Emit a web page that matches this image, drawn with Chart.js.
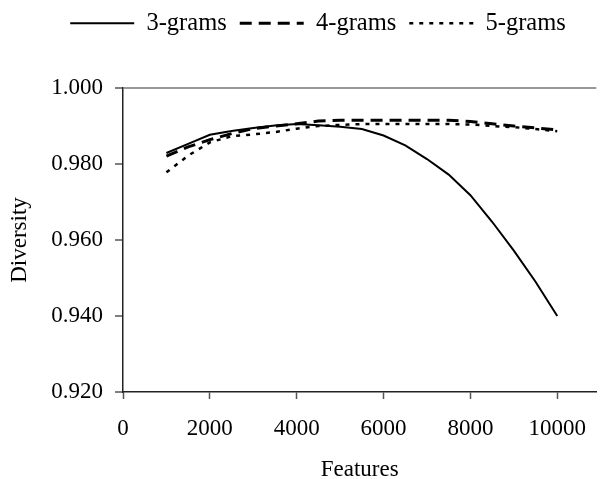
<!DOCTYPE html>
<html>
<head>
<meta charset="utf-8">
<script src="https://cdn.jsdelivr.net/npm/chart.js@4.4.1/dist/chart.umd.min.js"></script>
<style>
  html, body { margin: 0; padding: 0; background: #fff; }
  #wrap { width: 602px; height: 479px; }
</style>
</head>
<body>
<div id="wrap"><canvas id="myChart" width="602" height="479"></canvas></div>
<script>
var features = [1000, 1500, 2000, 2500, 3000, 3500, 4000, 4500, 5000, 5500,
                6000, 6500, 7000, 7500, 8000, 8500, 9000, 9500, 10000];
var gram3 = [0.9829, 0.9853, 0.9877, 0.9887, 0.9895, 0.9901, 0.9905, 0.9902, 0.9898, 0.9892,
             0.9875, 0.9849, 0.9813, 0.9772, 0.9718, 0.9648, 0.9572, 0.9490, 0.9400];
var gram4 = [0.9821, 0.9845, 0.9864, 0.9880, 0.9893, 0.9900, 0.9906, 0.9913, 0.9915, 0.9915,
             0.9915, 0.9915, 0.9915, 0.9915, 0.9912, 0.9906, 0.9900, 0.9895, 0.9890];
var gram5 = [0.9778, 0.9822, 0.9857, 0.9873, 0.9878, 0.9884, 0.9893, 0.9900, 0.9903, 0.9905,
             0.9905, 0.9905, 0.9905, 0.9905, 0.9904, 0.9900, 0.9897, 0.9892, 0.9886];
var seriesNames = ['3-grams', '4-grams', '5-grams'];
var xTicks = [0, 2000, 4000, 6000, 8000, 10000];
var yTicks = [0.92, 0.94, 0.96, 0.98, 1.0];

var serif = "'Liberation Serif', 'Times New Roman', serif";

function pts(vals) {
    return features.map(function (f, i) { return {x: f, y: vals[i]}; });
}

// legend: fixed height, drawn a little right/up
var legendSize = {
    id: 'legendSize',
    beforeInit: function (chart) {
        var lg = chart.legend;
        var fit = lg.fit;
        lg.fit = function () {
            fit.call(this);
            this.height = 88;
        };
        var draw = lg.draw;
        lg.draw = function () {
            var c = this.ctx;
            c.save();
            c.translate(17, -2);
            draw.apply(this, arguments);
            c.restore();
        };
    }
};

var ctx = document.getElementById('myChart').getContext('2d');
var myChart = new Chart(ctx, {
    type: 'line',
    data: {
        datasets: [{
            label: seriesNames[0],
            data: pts(gram3),
            borderColor: '#000',
            borderWidth: 2,
            pointRadius: 0,
            tension: 0
        }, {
            label: seriesNames[1],
            data: pts(gram4),
            borderColor: '#000',
            borderWidth: 3,
            borderDash: [12, 7],
            pointRadius: 0,
            tension: 0
        }, {
            label: seriesNames[2],
            data: pts(gram5),
            borderColor: '#000',
            borderWidth: 2.5,
            borderDash: [4, 6],
            pointRadius: 0,
            tension: 0
        }]
    },
    options: {
        responsive: false,
        animation: false,
        layout: { padding: 0 },
        plugins: {
            tooltip: { enabled: false },
            legend: {
                position: 'top',
                labels: {
                    usePointStyle: true,
                    pointStyle: 'line',
                    pointStyleWidth: 64,
                    boxHeight: 22,
                    padding: 13,
                    color: '#000',
                    font: { family: serif, size: 24.5 },
                    generateLabels: function (chart) {
                        var items = Chart.defaults.plugins.legend.labels.generateLabels(chart);
                        items.forEach(function (it) {
                            var ds = chart.data.datasets[it.datasetIndex];
                            it.lineDash = ds.borderDash || [];
                            it.lineWidth = ds.borderWidth;
                            it.strokeStyle = '#000';
                            it.fillStyle = '#000';
                        });
                        return items;
                    }
                }
            }
        },
        scales: {
            x: {
                type: 'linear',
                min: 0,
                max: 10900,
                afterBuildTicks: function (s) {
                    s.ticks = xTicks.map(function (v) { return {value: v}; });
                },
                afterFit: function (s) { s.height = 87; },
                border: { color: '#222', width: 1.5 },
                grid: {
                    drawOnChartArea: false,
                    tickLength: 7,
                    tickWidth: 1.5,
                    tickColor: '#555'
                },
                ticks: {
                    autoSkip: false,
                    maxRotation: 0,
                    padding: 16,
                    color: '#000',
                    font: { family: serif, size: 23 },
                    callback: function (v) { return String(v); }
                },
                title: {
                    display: true,
                    text: 'Features',
                    color: '#000',
                    font: { family: serif, size: 23 },
                    padding: { top: 0, bottom: -5 }
                }
            },
            y: {
                min: 0.92,
                max: 1.0,
                afterBuildTicks: function (s) {
                    s.ticks = yTicks.map(function (v) { return {value: v}; });
                },
                afterFit: function (s) { s.width = 123; },
                border: { color: '#222', width: 1.5 },
                grid: {
                    color: function (c) {
                        return (c.tick && Math.abs(c.tick.value - 1.0) < 1e-9) ? '#999' : 'rgba(0,0,0,0)';
                    },
                    lineWidth: 2,
                    tickLength: 8,
                    tickWidth: 1.5,
                    tickColor: '#555'
                },
                ticks: {
                    autoSkip: false,
                    padding: 12,
                    color: '#000',
                    font: { family: serif, size: 23 },
                    callback: function (v) { return v.toFixed(3); }
                },
                title: {
                    display: true,
                    text: 'Diversity',
                    color: '#000',
                    font: { family: serif, size: 23 },
                    padding: { top: 6, bottom: 0 }
                }
            }
        }
    },
    plugins: [legendSize]
});
</script>
</body>
</html>
